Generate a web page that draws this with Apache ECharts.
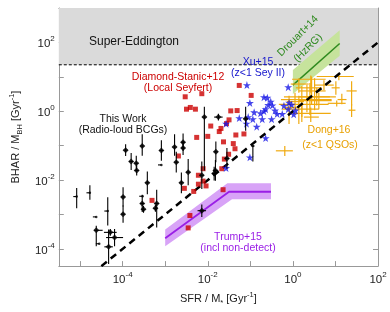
<!DOCTYPE html>
<html><head><meta charset="utf-8">
<script src="https://cdn.jsdelivr.net/npm/echarts@6/dist/echarts.min.js"></script>
<style>html,body{margin:0;padding:0;background:#fff}#c{width:390px;height:312px}</style>
</head><body><div id="c"></div>
<script>
// All values are log10: x = log10(SFR/M* [Gyr^-1]), y = log10(BHAR/M_BH [Gyr^-1])
const xRange = [-5.5, 2];
const yRange = [-4.5, 3];
const xTickValues = [-5, -4, -3, -2, -1, 0, 1];
const xLabelValues = [-4, -2, 0, 2];
const yTickValues = [-4, -3, -2, -1, 0, 1, 2];
const yLabelValues = [-4, -2, 0, 2];
const superEddingtonLog = 1.35;
const oneToOneLine = [[-4.5, -4.5], [2, 2]];
const drouartLine = [[0, 0.76], [1.1, 1.97]];
const drouartBand = [[0, 1.20], [1.1, 2.35], [1.1, 1.61], [0, 0.50]];
const trumpLine = [[-3, -3.69], [-1.5, -2.34], [-0.515, -2.34]];
const trumpBand = [[-3, -3.44], [-1.54, -2.09], [-0.515, -2.09], [-0.515, -2.56], [-1.43, -2.56], [-3, -3.92]];

// [x, y, xLow, xHigh, yLow, yHigh]
const thisWork = [
  [-3.93, -1.13, -3.98, -3.88, -1.30, -0.96],
  [-3.54, -1.01, -3.59, -3.49, -1.29, -0.67],
  [-3.80, -1.46, -3.85, -3.75, -1.71, -1.21],
  [-3.68, -1.51, -3.73, -3.63, -1.73, -1.29],
  [-3.67, -1.72, -3.72, -3.62, -1.87, -1.57],
  [-3.09, -1.14, -3.14, -3.04, -1.44, -0.84],
  [-2.78, -1.04, -2.83, -2.73, -1.29, -0.67],
  [-2.58, -0.90, -2.63, -2.53, -1.15, -0.65],
  [-2.58, -1.07, -2.63, -2.53, -1.27, -0.87],
  [-2.74, -1.48, -2.79, -2.69, -1.78, -1.18],
  [-2.46, -1.77, -2.51, -2.41, -2.15, -1.39],
  [-2.62, -2.08, -2.67, -2.57, -2.38, -1.78],
  [-3.42, -2.08, -3.47, -3.37, -2.41, -1.75],
  [-3.54, -2.68, -3.59, -3.49, -2.93, -2.43],
  [-3.51, -2.85, -3.56, -3.46, -2.95, -2.75],
  [-3.20, -2.68, -3.25, -3.15, -3.38, -2.28],
  [-3.23, -2.82, -3.28, -3.18, -2.92, -2.72],
  [-3.99, -2.49, -4.04, -3.94, -2.77, -2.21],
  [-3.99, -2.99, -4.04, -3.94, -3.24, -2.74],
  [-4.62, -3.46, -4.67, -4.47, -3.92, -3.33],
  [-4.29, -3.52, -4.44, -4.14, -3.62, -3.42],
  [-4.19, -3.67, -4.39, -3.99, -3.92, -3.42],
  [-4.33, -3.94, -4.43, -4.23, -4.44, -3.44],
  [-2.08, -0.17, -2.13, -2.03, -1.72, 0.13],
  [-1.75, -0.17, -1.85, -1.65, -0.27, -0.07],
  [-1.11, -0.22, -1.16, -1.06, -0.57, 0.13],
  [-1.81, -1.18, -1.86, -1.76, -1.48, -0.88],
  [-1.55, -1.37, -1.60, -1.50, -1.67, -1.07],
  [-2.14, -1.86, -2.19, -2.09, -2.26, -1.46],
  [-1.82, -1.72, -1.87, -1.77, -2.02, -1.42],
  [-1.85, -1.81, -1.90, -1.80, -2.01, -1.61],
  [-2.14, -2.89, -2.24, -2.04, -3.07, -2.71]
];
const thisWorkLimits = [
  [-5.08, -2.48, -5.16, -5.08, -2.82, -2.23],
  [-4.77, -2.37, -4.85, -4.77, -2.57, -2.15],
  [-4.35, -2.90, -4.43, -4.35, -3.32, -2.50],
  [-4.62, -3.07, -4.70, -4.62, -3.07, -3.07],
  [-4.55, -3.85, -4.63, -4.55, -3.85, -3.85],
  [-3.09, -1.56, -3.17, -3.09, -1.56, -1.56],
  [-3.53, -2.47, -3.61, -3.53, -2.47, -2.47],
  [-0.94, -1.01, -0.98, -0.90, -1.46, -1.01]
];
const diamondStanic = [
  [-2.53, 0.42], [-2.50, 0.06], [-2.41, 0.11], [-2.29, 0.06], [-2.14, 0.51],
  [-2.26, -0.76], [-1.93, -0.43], [-1.73, -0.59], [-1.50, -0.25], [-1.46, 0.01],
  [-1.31, 0.02], [-1.26, 0.75], [-0.98, 0.46], [-1.56, -0.36], [-2.00, -0.73],
  [-1.63, -0.89], [-1.40, -0.94], [-1.36, -1.09], [-1.15, -0.66], [-1.51, -1.25],
  [-1.61, -1.39], [-2.11, -1.67], [-2.22, -1.86], [-2.11, -2.03], [-2.04, -2.17],
  [-2.22, -2.12], [-2.33, -2.33], [-2.55, -2.24], [-1.67, -1.67], [-1.64, -2.28],
  [-2.42, -3.03], [-2.46, -3.39], [-2.69, -1.30], [-3.31, -2.59], [-1.34, -0.69],
  [-1.69, -0.50]
];
const xu15 = [
  [-1.08, 0.76], [-1.01, 0.24], [-0.68, 0.41], [-0.60, 0.39], [-0.52, 0.28],
  [-0.58, 0.18], [-0.48, 0.17], [-0.64, 0.06], [-0.91, -0.03], [-0.68, 0.00],
  [-0.42, 0.02], [-1.26, -0.20], [-1.05, -0.17], [-0.94, -0.23], [-0.72, -0.23],
  [-0.50, -0.23], [-1.09, -0.36], [-0.85, -0.45], [-0.37, -0.08], [-0.11, 0.70],
  [-0.09, 0.25], [-0.11, 0.06], [-0.03, 0.19], [0.02, -0.09], [0.06, 0.02],
  [-1.57, -0.36], [-0.64, -0.78], [-1.01, -1.34], [-1.57, -1.65], [-0.76, -0.06],
  [-0.25, -0.08], [-0.21, 0.16]
];
const dong16 = [
  [1.08, 1.01, 0.56, 1.43, 0.90, 1.10],
  [0.42, 0.93, -0.02, 0.77, 0.54, 1.04],
  [0.44, 0.68, 0.07, 0.68, 0.20, 1.01],
  [0.51, 0.59, 0.14, 0.77, 0.03, 0.96],
  [0.33, 0.42, -0.21, 1.01, -0.03, 0.76],
  [0.21, 0.34, -0.28, 0.91, -0.17, 0.73],
  [0.40, 0.20, -0.33, 0.84, -0.11, 0.82],
  [0.14, 0.06, -0.26, 0.61, -0.37, 0.45],
  [0.21, -0.06, -0.09, 0.89, -0.31, 0.25],
  [0.05, 0.28, -0.14, 0.26, 0.03, 0.54],
  [-0.09, 0.11, -0.19, 0.14, -0.37, 0.45],
  [0.42, -0.17, 0.26, 0.61, -0.31, 0.11],
  [0.56, 0.42, 0.14, 0.87, 0.17, 0.68],
  [0.61, 0.31, 0.14, 0.91, 0.06, 0.54],
  [1.01, 0.68, 0.91, 1.10, 0.48, 0.87],
  [1.15, 0.34, 1.05, 1.26, 0.20, 0.51],
  [1.03, 0.23, 0.82, 1.24, 0.14, 0.31],
  [1.38, 0.59, 1.26, 1.50, 0.17, 0.87],
  [1.38, 0.03, 1.31, 1.47, -0.17, 0.20],
  [-0.19, -1.15, -0.40, 0.00, -1.30, -1.01],
  [0.14, 0.79, -0.05, 0.37, 0.54, 0.96],
  [0.73, 0.76, 0.51, 0.96, 0.62, 0.90]
];

const FONT = '"Liberation Sans", Arial, sans-serif';
const chart = echarts.init(document.getElementById('c'), null, {renderer: 'canvas'});

function errRender(color, width) {
  return function (params, api) {
    const x = api.value(0), y = api.value(1);
    const a = api.coord([api.value(2), y]), b = api.coord([api.value(3), y]);
    const c = api.coord([x, api.value(4)]), d = api.coord([x, api.value(5)]);
    return {type: 'group', children: [
      {type: 'line', shape: {x1: a[0], y1: a[1], x2: b[0], y2: b[1]}, style: {stroke: color, lineWidth: width}},
      {type: 'line', shape: {x1: c[0], y1: c[1], x2: d[0], y2: d[1]}, style: {stroke: color, lineWidth: width}}
    ]};
  };
}
function polyRender(points, color) {
  return function (params, api) {
    return {type: 'polygon', shape: {points: points.map(p => api.coord(p))}, style: {fill: color}};
  };
}
const supEdRegion = [[xRange[0], superEddingtonLog], [xRange[1], superEddingtonLog], [xRange[1], yRange[1]], [xRange[0], yRange[1]]];
const starPath = 'path://M0,-10L2.245,-3.09L9.511,-3.09L3.633,1.18L5.878,8.09L0,3.82L-5.878,8.09L-3.633,1.18L-9.511,-3.09L-2.245,-3.09Z';

const labelRich = {
  b: {fontSize: 11.5, fontFamily: FONT, color: '#222', lineHeight: 15, verticalAlign: 'bottom'},
  s: {fontSize: 8, fontFamily: FONT, color: '#222', lineHeight: 9, verticalAlign: 'top'}
};
const fmt = v => '{b|10}{s|' + v + '}';
const nameRich = {
  n: {fontSize: 11, fontFamily: FONT, color: '#222', lineHeight: 16, verticalAlign: 'middle'},
  sub: {fontSize: 7.5, fontFamily: FONT, color: '#222', lineHeight: 9, verticalAlign: 'bottom'},
  sup: {fontSize: 7.5, fontFamily: FONT, color: '#222', lineHeight: 9, verticalAlign: 'top'}
};
const axisCol = '#999';
function mkX(pos, show) {
  return {
    type: 'value', min: xRange[0], max: xRange[1], position: pos,
    axisLine: {show: true, onZero: false, lineStyle: {color: axisCol, width: 1}},
    axisTick: {show: true, inside: true, length: 5, customValues: xTickValues, lineStyle: {color: axisCol}},
    axisLabel: {show: show, customValues: xLabelValues, formatter: fmt, rich: labelRich, margin: 5},
    splitLine: {show: false},
    name: show ? '{n|SFR / M}{sub|*}{n| [Gyr}{sup|-1}{n|]}' : '',
    nameLocation: 'middle', nameGap: 20, nameTextStyle: {rich: nameRich}
  };
}
function mkY(pos, show) {
  return {
    type: 'value', min: yRange[0], max: yRange[1], position: pos,
    axisLine: {show: true, onZero: false, lineStyle: {color: axisCol, width: 1}},
    axisTick: {show: true, inside: true, length: 5, customValues: yTickValues, lineStyle: {color: axisCol}},
    axisLabel: {show: show, customValues: yLabelValues, formatter: fmt, rich: labelRich, margin: 4},
    splitLine: {show: false},
    name: show ? '{n|BHAR / M}{sub|BH}{n| [Gyr}{sup|-1}{n|]}' : '',
    nameLocation: 'middle', nameGap: 28, nameTextStyle: {rich: nameRich}
  };
}

function txt(text, x, y, color, size, rot) {
  return {type: 'text', x: x, y: y, rotation: rot || 0, z: 100,
    style: {text: text, fill: color, font: (size || 10.5) + 'px ' + FONT, textAlign: 'center', textVerticalAlign: 'middle'}};
}

chart.setOption({
  animation: false,
  grid: {left: 58, right: 12, top: 8, bottom: 38},
  xAxis: [mkX('bottom', true), mkX('top', false)],
  yAxis: [mkY('left', true), mkY('right', false)],
  series: [
    {type: 'custom', renderItem: polyRender(supEdRegion, '#dadada'), data: [supEdRegion[0]], z: 1, silent: true},
    {type: 'line', data: [supEdRegion[0], supEdRegion[1]], symbol: 'none', lineStyle: {color: '#000', width: 1, type: [3, 2]}, z: 2},
    {type: 'custom', renderItem: polyRender(drouartBand, '#c6e39c'), data: [drouartBand[0]], z: 3, clip: true},
    {type: 'line', data: drouartLine, symbol: 'none', lineStyle: {color: '#2f8a1f', width: 1.5}, z: 4},
    {type: 'custom', renderItem: polyRender(trumpBand, '#d8a3f7'), data: [trumpBand[0]], z: 3, clip: true},
    {type: 'line', data: trumpLine, symbol: 'none', lineStyle: {color: '#9a1fe6', width: 1.8}, z: 4},
    {type: 'custom', renderItem: errRender('#f0aa10', 1.2), data: dong16, z: 5, clip: true},
    {type: 'line', data: oneToOneLine, symbol: 'none', lineStyle: {color: '#000', width: 2.5, type: [7, 5]}, z: 6},
    {type: 'scatter', data: diamondStanic, symbol: 'rect', symbolSize: 5, itemStyle: {color: '#cc0000'}, z: 7},
    {type: 'scatter', data: xu15, symbol: starPath, symbolSize: 8, itemStyle: {color: '#1515e6'}, z: 8},
    {type: 'custom', renderItem: errRender('#000', 1.1), data: thisWork, z: 9, clip: true},
    {type: 'custom', renderItem: errRender('#000', 1.1), data: thisWorkLimits, z: 9, clip: true},
    {type: 'scatter', data: thisWork.map(p => [p[0], p[1]]), symbol: 'diamond', symbolSize: 6, itemStyle: {color: '#000'}, z: 10},
    {type: 'scatter', data: thisWorkLimits.map(p => [p[0], p[1]]), symbol: 'circle', symbolSize: 2.5, itemStyle: {color: '#000'}, z: 10}
  ],
  graphic: [
    txt('Super-Eddington', 134, 42, '#111', 12),
    txt('Diamond-Stanic+12', 178, 77, '#cc0000'),
    txt('(Local Seyfert)', 178, 88, '#cc0000'),
    txt('Xu+15', 258, 62, '#1515cc'),
    txt('(z<1 Sey II)', 258, 73, '#1515cc'),
    txt('This Work', 123, 119, '#111'),
    txt('(Radio-loud BCGs)', 123, 130, '#111'),
    txt('Dong+16', 329, 130, '#e8a000'),
    txt('(z<1 QSOs)', 330, 145, '#e8a000'),
    txt('Trump+15', 238, 237, '#9a1fe6'),
    txt('(incl non-detect)', 238, 248, '#9a1fe6'),
    txt('Drouart+14', 298, 36, '#2f8a1f', 10.5, Math.PI / 4),
    txt('(HzRG)', 308, 48, '#2f8a1f', 10.5, Math.PI / 4)
  ]
});
</script>
</body></html>
